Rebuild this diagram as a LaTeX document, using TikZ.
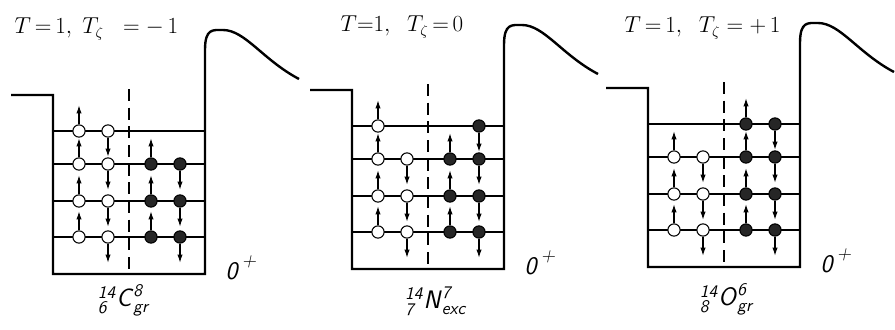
\documentclass[tikz,border=0pt]{standalone}
\usepackage{amsmath}
\usetikzlibrary{arrows.meta}
\newcommand{\gst}[1]{\textsf{\textit{#1}}}
\tikzset{
  well/.style={line width=1.8pt,line join=miter},
  level/.style={line width=0.8pt},
  divider/.style={line width=0.8pt,dash pattern=on 9pt off 5pt},
  nucleon/.style={circle,draw,line width=0.8pt,minimum size=9.2pt,inner sep=0pt},
  neutron/.style={nucleon,fill=white},
  proton/.style={nucleon,fill=black!85},
  spin/.style={-{Latex[length=6pt,width=4pt]},line width=0.8pt},
  title/.style={anchor=west,font=\fontsize{16}{18}\selectfont},
  spinpar/.style={anchor=base west,font=\fontsize{19}{21}\selectfont\sffamily\itshape},
  nuclide/.style={font=\fontsize{19}{21}\selectfont}
}
\begin{document}
\begin{tikzpicture}[x=0.75pt,y=-0.75pt]
\useasboundingbox (0,0) rectangle (895,329);
% wells: shift / lowest occupied level of each column (nu, nd, pu, pd)
\foreach \dx/\dy/\p/\nu/\nd/\pu/\pd in {53/95/a/1/1/2/2,352/90/b/1/2/2/1,648/88/c/2/2/1/1}{
  \begin{scope}[shift={(\dx,\dy)}]
    \coordinate (\p-ledge) at (-42,0);
    \coordinate (\p-top) at (152,-45);
    \coordinate (\p-peak) at (170,-65);
    \coordinate (\p-tail) at (246,-16);
    \foreach \ly in {36,69,106,142}
      \draw[level] (0,\ly) -- (152,\ly);
    \draw[divider] (76,-6) -- (76,179);
    \draw[well] (\p-ledge) -- (0,0) -- (0,179) -- (152,179) -- (\p-top)
      .. controls (152,-67) and (160,-65) .. (\p-peak)
      .. controls (192,-65) and (210,-35) .. (\p-tail);
    \foreach \c/\cx/\st/\anc/\len/\first in {nu/26/neutron/north/-19/\nu,nd/55/neutron/south/19/\nd,pu/98/proton/north/-19/\pu,pd/127/proton/south/19/\pd}{
      \foreach \k/\ly in {1/36,2/69,3/106,4/142}{
        \ifnum\k<\first\else
          \node[\st] (\p-\c-\k) at (\cx,\ly) {};
          \draw[spin] (\p-\c-\k.\anc) -- ++(0,\len);
        \fi
      }
    }
    \node[spinpar] (\p-jp) at (168,184) {0\,\raisebox{0.5em}{\fontsize{14}{16}\selectfont +}};
  \end{scope}
}
\node[title] (a-title) at (10,29) {$T{\,=\,}1,\ T_\zeta\;\;=-\,1$};
\node[title] (b-title) at (336,27) {$T{=}1,\;\;T_\zeta\,{=}\,0$};
\node[title] (c-title) at (620,28) {$T{\,=\,}1,\;\;T_\zeta=+\,1$};
\node[nuclide] (a-label) at (124,300) {${}^{\gst{14}}_{\gst{6}}\gst{C}^{\gst{8}}_{\gst{gr}}$};
\node[nuclide] (b-label) at (436,301) {${}^{\gst{14}}_{\gst{7}}\gst{N}^{\gst{7}}_{\gst{exc}}$};
\node[nuclide] (c-label) at (727,299) {${}^{\gst{14}}_{\gst{8}}\gst{O}^{\gst{6}}_{\gst{gr}}$};
\end{tikzpicture}
\end{document}
